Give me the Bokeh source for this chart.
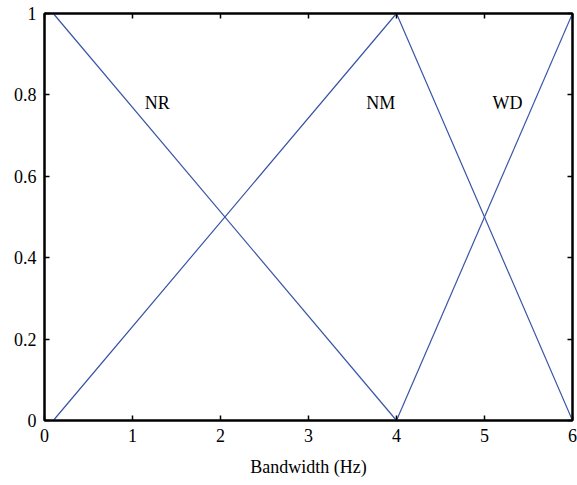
from bokeh.plotting import figure
from bokeh.models import FixedTicker, LinearAxis, Range1d, Label
from bokeh.embed import file_html
from bokeh.resources import INLINE

# membership functions
nr_x = [0.1, 4.0]
nr_y = [1.0, 0.0]
nm_x = [0.1, 4.0, 6.0]
nm_y = [0.0, 1.0, 0.0]
wd_x = [4.0, 6.0]
wd_y = [0.0, 1.0]

labels = ["NR", "NM", "WD"]
label_x = [1.28, 3.82, 5.26]
label_y = [0.78, 0.78, 0.78]

x_ticks = [0, 1, 2, 3, 4, 5, 6]
y_ticks = [0, 0.2, 0.4, 0.6, 0.8, 1.0]
y_tick_labels = ["0", "0.2", "0.4", "0.6", "0.8", "1"]

FONT = "Liberation Serif"
BLUE = "#3a55a6"

p = figure(width=577, height=485, output_backend="svg", toolbar_location=None,
           x_range=Range1d(0, 6), y_range=Range1d(0, 1),
           min_border_left=44, min_border_right=5, min_border_top=13, min_border_bottom=65)
p.grid.visible = False
p.outline_line_color = "black"
p.outline_line_width = 2

for xs, ys in [(nr_x, nr_y), (nm_x, nm_y), (wd_x, wd_y)]:
    p.line(xs, ys, line_color=BLUE, line_width=1.2)

for t, xx, yy in zip(labels, label_x, label_y):
    p.add_layout(Label(x=xx, y=yy, text=t, text_font=FONT, text_font_size="18px",
                       text_align="center", text_baseline="middle", text_color="black"))

def style(ax, show_labels=True):
    ax.axis_line_color = "black"
    ax.axis_line_width = 2
    ax.major_tick_in = 5
    ax.major_tick_out = 0
    ax.major_tick_line_width = 1.5
    ax.major_tick_line_color = "black"
    ax.minor_tick_line_color = None
    ax.major_label_text_font = FONT
    ax.major_label_text_font_size = "18px"
    ax.major_label_text_color = "black"
    ax.major_label_standoff = 8
    if not show_labels:
        ax.major_label_text_font_size = "0px"
        ax.major_label_text_alpha = 0

xa = p.xaxis[0]
xa.ticker = FixedTicker(ticks=x_ticks)
xa.axis_label = "Bandwidth (Hz)"
xa.axis_label_text_font = FONT
xa.axis_label_text_font_size = "18px"
xa.axis_label_text_font_style = "normal"
xa.axis_label_text_color = "black"
xa.axis_label_standoff = 12
style(xa)

ya = p.yaxis[0]
ya.ticker = FixedTicker(ticks=y_ticks)
ya.major_label_overrides = {t: l for t, l in zip(y_ticks, y_tick_labels)}
style(ya)

top = LinearAxis(ticker=FixedTicker(ticks=x_ticks))
style(top, False)
top.major_label_standoff = 0
p.add_layout(top, "above")
right = LinearAxis(ticker=FixedTicker(ticks=y_ticks))
style(right, False)
right.major_label_standoff = 0
p.add_layout(right, "right")

open("out.html", "w").write(file_html(p, INLINE))
